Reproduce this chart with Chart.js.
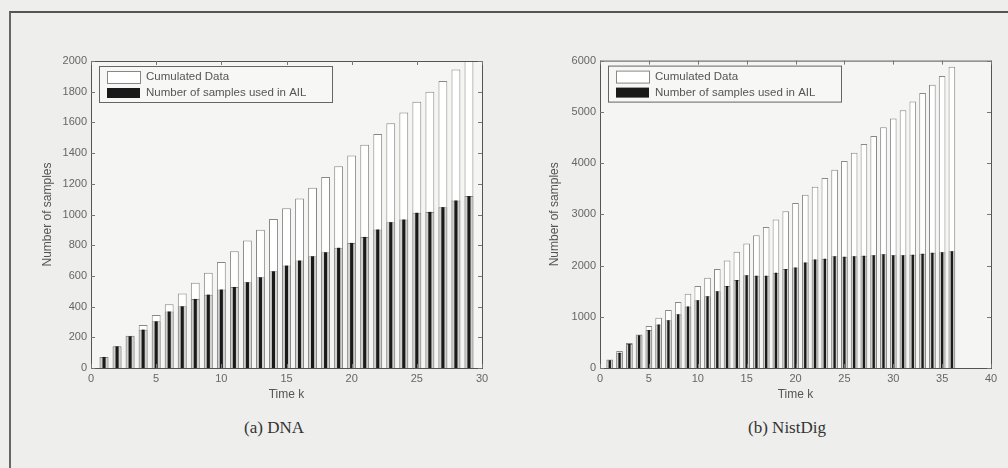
<!DOCTYPE html>
<html>
<head>
<meta charset="utf-8">
<script src="https://cdn.jsdelivr.net/npm/chart.js@4.4.1/dist/chart.umd.min.js"></script>
<style>
  body { margin: 0; width: 1008px; height: 468px; background: #eeeeec; overflow: hidden; position: relative; font-family: "Liberation Sans", Arial, sans-serif; }
  #frame { position: absolute; left: 9px; top: 11px; width: 1200px; height: 700px; border-top: 2px solid #555; border-left: 2px solid #666; }
  canvas { position: absolute; }
  .caption { position: absolute; top: 418px; font-family: "Liberation Serif", "Times New Roman", serif; font-size: 17px; color: #333; text-align: center; width: 200px; }
</style>
</head>
<body>
<div id="frame"></div>
<canvas id="dna-chart" width="462" height="354" style="left:38px;top:50px"></canvas>
<canvas id="nist-chart" width="458" height="354" style="left:545px;top:50px"></canvas>
<div class="caption" style="left:174px">(a) DNA</div>
<div class="caption" style="left:687px">(b) NistDig</div>
<script>
// DNA data
const dnaTimes = [1,2,3,4,5,6,7,8,9,10,11,12,13,14,15,16,17,18,19,20,21,22,23,24,25,26,27,28,29];
const dnaCumulated = [70,140,210,280,345,415,485,555,620,690,760,830,900,970,1040,1105,1175,1245,1315,1385,1455,1525,1595,1665,1735,1800,1870,1945,2020];
const dnaUsed = [72,141,207,250,304,368,402,450,478,511,528,559,591,630,667,700,728,754,783,815,854,902,950,967,1011,1017,1048,1091,1120];

// NistDig data
const nistTimes = [1,2,3,4,5,6,7,8,9,10,11,12,13,14,15,16,17,18,19,20,21,22,23,24,25,26,27,28,29,30,31,32,33,34,35,36];
const nistCumulated = [165,330,490,655,820,980,1130,1290,1450,1600,1760,1930,2100,2270,2430,2590,2750,2900,3060,3220,3380,3540,3710,3870,4040,4200,4370,4530,4700,4870,5030,5200,5370,5530,5700,5880];
const nistUsed = [150,300,470,640,740,850,930,1050,1200,1320,1400,1500,1600,1720,1810,1800,1800,1860,1930,1960,2060,2120,2130,2180,2170,2180,2190,2200,2220,2200,2200,2210,2230,2250,2260,2280];

const legendLabels = ["Cumulated Data", "Number of samples used in AIL"];

// axes box, inward ticks and the legend box inside the plot
const matlabBox = {
    id: "matlabBox",
    beforeDatasetsDraw(chart) {
        const a = chart.chartArea;
        const ctx = chart.ctx;
        ctx.save();
        ctx.fillStyle = "#f5f5f3";
        ctx.fillRect(a.left, a.top, a.right - a.left, a.bottom - a.top);
        ctx.restore();
    },
    afterDatasetsDraw(chart) {
        const a = chart.chartArea;
        const ctx = chart.ctx;
        ctx.save();
        ctx.strokeStyle = "#555";
        ctx.lineWidth = 1;
        ctx.strokeRect(a.left + 0.5, a.top + 0.5, a.right - a.left, a.bottom - a.top);
        ctx.strokeStyle = "#777";
        ctx.beginPath();
        chart.scales.x.ticks.forEach((t) => {
            const px = Math.round(chart.scales.x.getPixelForValue(t.value)) + 0.5;
            ctx.moveTo(px, a.bottom); ctx.lineTo(px, a.bottom - 4);
            ctx.moveTo(px, a.top); ctx.lineTo(px, a.top + 4);
        });
        chart.scales.y.ticks.forEach((t) => {
            const py = Math.round(chart.scales.y.getPixelForValue(t.value)) + 0.5;
            ctx.moveTo(a.left, py); ctx.lineTo(a.left + 4, py);
            ctx.moveTo(a.right, py); ctx.lineTo(a.right - 4, py);
        });
        ctx.stroke();

        // legend
        const lx = a.left + 8, ly = a.top + 5;
        ctx.fillStyle = "#f7f7f5";
        ctx.fillRect(lx, ly, 233, 36);
        ctx.strokeStyle = "#666";
        ctx.strokeRect(lx + 0.5, ly + 0.5, 233, 36);
        ctx.fillStyle = "#fff";
        ctx.fillRect(lx + 8, ly + 5, 33, 12);
        ctx.strokeStyle = "#888";
        ctx.strokeRect(lx + 8.5, ly + 5.5, 33, 12);
        ctx.fillStyle = "#1a1a1a";
        ctx.fillRect(lx + 8, ly + 22, 33, 10);
        ctx.fillStyle = "#555";
        ctx.font = "11.5px 'Liberation Sans', Arial, sans-serif";
        ctx.textBaseline = "middle";
        ctx.fillText(legendLabels[0], lx + 47, ly + 11);
        ctx.fillText(legendLabels[1], lx + 47, ly + 27);
        ctx.restore();
    },
};

function makeChart(id, times, cumulated, used, xMax, yMax, yStep, yWidth, pad) {
    const ctx = document.getElementById(id).getContext("2d");
    return new Chart(ctx, {
        type: "bar",
        data: {
            datasets: [
                {
                    label: legendLabels[1],
                    data: times.map((k, i) => ({ x: k, y: used[i] })),
                    backgroundColor: "#1a1a1a",
                    barPercentage: 0.24,
                    categoryPercentage: 1,
                    grouped: false,
                    order: 0,
                },
                {
                    label: "shade",
                    data: times.map((k, i) => ({ x: k, y: used[i] })),
                    backgroundColor: "#cfcfcd",
                    borderColor: "#888",
                    borderWidth: 1,
                    borderSkipped: "bottom",
                    barPercentage: 0.68,
                    categoryPercentage: 1,
                    grouped: false,
                    order: 1,
                },
                {
                    label: legendLabels[0],
                    data: times.map((k, i) => ({ x: k, y: cumulated[i] })),
                    backgroundColor: "#ffffff",
                    borderColor: "#888",
                    borderWidth: 1,
                    borderSkipped: "bottom",
                    barPercentage: 0.68,
                    categoryPercentage: 1,
                    grouped: false,
                    order: 2,
                },
            ],
        },
        options: {
            responsive: false,
            animation: false,
            layout: { padding: pad },
            plugins: { legend: { display: false }, tooltip: { enabled: false } },
            scales: {
                x: {
                    type: "linear",
                    min: 0,
                    max: xMax,
                    offset: false,
                    grid: { display: false, drawTicks: false },
                    border: { display: false },
                    ticks: { stepSize: 5, color: "#666", font: { size: 11 }, padding: 4, maxRotation: 0, callback: (v) => String(v) },
                    title: { display: true, text: "Time k", color: "#555", font: { size: 12 }, padding: { top: 2, bottom: 2 } },
                    afterFit: (scale) => { scale.height = 36; },
                },
                y: {
                    min: 0,
                    max: yMax,
                    grid: { display: false, drawTicks: false },
                    border: { display: false },
                    ticks: { stepSize: yStep, color: "#666", font: { size: 11 }, padding: 4, callback: (v) => String(v) },
                    title: { display: true, text: "Number of samples", color: "#555", font: { size: 12 }, padding: { top: 2, bottom: 2 } },
                    afterFit: (scale) => { scale.width = yWidth; },
                },
            },
        },
        plugins: [matlabBox],
    });
}

makeChart("dna-chart", dnaTimes, dnaCumulated, dnaUsed, 30, 2000, 200, 53, { top: 11, right: 18, left: 0, bottom: 0 });
makeChart("nist-chart", nistTimes, nistCumulated, nistUsed, 40, 6000, 1000, 55, { top: 9, right: 12, left: 0, bottom: 0 });
</script>
</body>
</html>
